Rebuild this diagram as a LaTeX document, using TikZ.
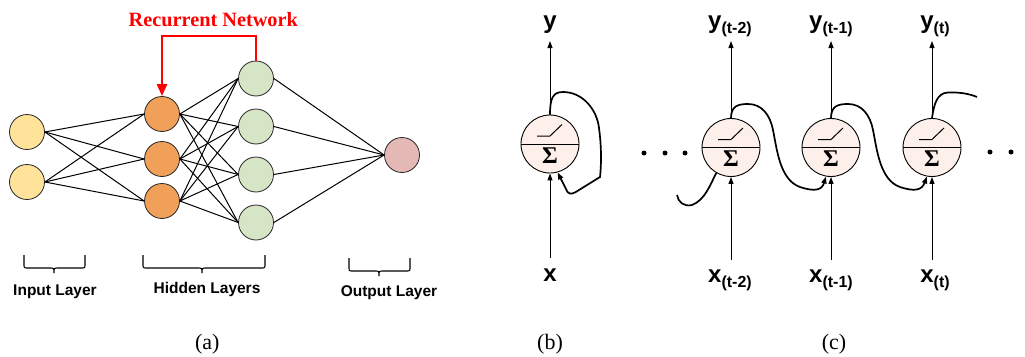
\documentclass[tikz,border=0pt]{standalone}
\usepackage{fontspec}
\setmainfont{Liberation Serif}
\newfontfamily\labfont{Liberation Sans}
\usetikzlibrary{arrows.meta,calc}
\definecolor{inyel}{HTML}{FFE39B}
\definecolor{hidor}{HTML}{F1A05A}
\definecolor{hidgr}{HTML}{D6E5C6}
\definecolor{outpk}{HTML}{E3B8B5}
\definecolor{neufill}{HTML}{FDF0EA}
\newcommand\layerbrace[4]{%
  \draw[line width=1.1pt] (#1,#4) -- (#1,#4+9) .. controls (#1,#4+13) .. (#1+4,#4+13)
    -- (#3-4,#4+13) .. controls (#3,#4+13) .. (#3,#4+18) .. controls (#3,#4+13) .. (#3+4,#4+13)
    -- (#2-4,#4+13) .. controls (#2,#4+13) .. (#2,#4+9) -- (#2,#4);}
\begin{document}
\begin{tikzpicture}[x=1pt,y=-1pt,
  unit/.style={circle,draw=black!85,line width=0.8pt,minimum size=35pt,inner sep=0pt},
  edge/.style={line width=1pt},
  neuron/.style={circle,draw=black,line width=0.9pt,fill=neufill,minimum size=58pt,inner sep=0pt},
  vec/.style={line width=1pt,-{Triangle[length=7pt,width=5pt]}},
  rec/.style={line width=1.7pt,-{Triangle[length=7pt,width=5pt]}},
  recfree/.style={line width=1.7pt},
  lab/.style={font=\labfont\bfseries\fontsize{24}{24}\selectfont, inner sep=0pt},
  layerlab/.style={font=\labfont\bfseries\fontsize{15.5}{16}\selectfont, inner sep=0pt},
  capt/.style={font=\fontsize{22}{22}\selectfont, inner sep=0pt},
  sig/.style={font=\fontsize{24}{24}\selectfont\bfseries, inner sep=0pt},
]
\useasboundingbox (0,0) rectangle (1025,356);

% ---------- (a) ----------
\node[unit,fill=inyel] (i1) at (27,132) {};
\node[unit,fill=inyel] (i2) at (27,182) {};
\node[unit,fill=hidor] (h1) at (162,114) {};
\node[unit,fill=hidor] (h2) at (162,159) {};
\node[unit,fill=hidor] (h3) at (162,201) {};
\node[unit,fill=hidgr] (g1) at (256,78.5) {};
\node[unit,fill=hidgr] (g2) at (256,126.5) {};
\node[unit,fill=hidgr] (g3) at (256,174.5) {};
\node[unit,fill=hidgr] (g4) at (256,222.5) {};
\node[unit,fill=outpk] (o1) at (402,155) {};

\foreach \a in {i1,i2}{\foreach \b in {h1,h2,h3}{\draw[edge] (\a.east) -- (\b.west);}}
\foreach \a in {h1,h2,h3}{\foreach \b in {g1,g2,g3,g4}{\draw[edge] (\a.east) -- (\b.west);}}
\foreach \a in {g1,g2,g3,g4}{\draw[edge] (\a.east) -- (o1.west);}

\node[font=\bfseries\fontsize{20.3}{21}\selectfont,text=red,inner sep=0pt,anchor=base] (rn) at (213.3,26.7) {Recurrent Network};
\coordinate (rt) at (209,36);
\draw[red,line width=2.6pt,-{Triangle[length=12pt,width=10pt]}] (g1.north) |- (rt) -| (h1.north);

\layerbrace{24}{85}{54}{255}
\layerbrace{143}{265}{202}{255}
\layerbrace{349}{410}{379}{258}
\node[layerlab,anchor=base] (tin) at (55,295) {Input Layer};
\node[layerlab,anchor=base] (thid) at (207,293) {Hidden Layers};
\node[layerlab,anchor=base] (tout) at (389,296) {Output Layer};

\node[capt,anchor=base] (ca) at (207.3,349) {(a)};
\node[capt,anchor=base] (cb) at (550,349) {(b)};
\node[capt,anchor=base] (cc) at (834,349) {(c)};

% ---------- (b) ----------
\node[neuron] (nb) at (550,144) {};
\foreach \n in {nb}{
  \draw[line width=1pt] (\n.west) -- (\n.east);
  \draw[line width=1pt] ($(\n)+(-13,-8)$) -- ($(\n)+(0,-8)$) -- ($(\n)+(12,-19.5)$);
  \node[sig,anchor=base] at ($(\n)+(0,19)$) {Σ};
}
\coordinate (byt) at (550,41);
\coordinate (bxb) at (550,258);
\draw[vec] (nb.north) -- (byt);
\draw[vec] (bxb) -- (nb.south);
\node[lab,anchor=base] (by) at (550,28) {y};
\node[lab,anchor=base] (bx) at (550,281) {x};
\draw[rec] (nb.north) .. controls (550,98) and (553,92) .. (563,92)
  .. controls (583,92) and (597,110) .. (599,128)
  .. controls (602,150) and (601,168) .. (600,177)
  -- (579,190) .. controls (574,193.5) and (570,195) .. (567.5,192)
  -- (nb.-75);

% ---------- (c) ----------
\node[neuron] (c1) at (731,147.5) {};
\node[neuron] (c2) at (831,147.5) {};
\node[neuron] (c3) at (932,147.5) {};
\foreach \n in {c1,c2,c3}{
  \draw[line width=1pt] (\n.west) -- (\n.east);
  \draw[line width=1pt] ($(\n)+(-13,-8)$) -- ($(\n)+(0,-8)$) -- ($(\n)+(12,-19.5)$);
  \node[sig,anchor=base] at ($(\n)+(0,19)$) {Σ};
}
\coordinate (t1) at (731,41);
\coordinate (t2) at (831,41);
\coordinate (t3) at (932,41);
\coordinate (s1) at (731,260);
\coordinate (s2) at (831,260);
\coordinate (s3) at (932,260);
\foreach \i in {1,2,3}{
  \draw[vec] (c\i.north) -- (t\i);
  \draw[vec] (s\i) -- (c\i.south);
}
\node[lab,anchor=base] (y1) at (730,28) {y\raisebox{-5pt}{\fontsize{16}{16}\selectfont(t-2)}};
\node[lab,anchor=base] (y2) at (831,28) {y\raisebox{-5pt}{\fontsize{16}{16}\selectfont(t-1)}};
\node[lab,anchor=base] (y3) at (935,28) {y\raisebox{-5pt}{\fontsize{16}{16}\selectfont(t)}};
\node[lab,anchor=base] (x1) at (730,282) {x\raisebox{-5pt}{\fontsize{16}{16}\selectfont(t-2)}};
\node[lab,anchor=base] (x2) at (831,282) {x\raisebox{-5pt}{\fontsize{16}{16}\selectfont(t-1)}};
\node[lab,anchor=base] (x3) at (935,282) {x\raisebox{-5pt}{\fontsize{16}{16}\selectfont(t)}};

\foreach \a/\b in {c1/c2,c2/c3}{
  \draw[rec] (\a.north) .. controls ($(\a)+(0,-41.5)$) and ($(\a)+(7,-43.5)$) .. ($(\a)+(17,-43.5)$)
    .. controls ($(\a)+(31,-43.5)$) and ($(\a)+(39,-32.5)$) .. ($(\a)+(42,-17.5)$)
    .. controls ($(\a)+(46,2.5)$) and ($(\a)+(49,32.5)$) .. ($(\a)+(69,39.5)$)
    .. controls ($(\a)+(84,44.5)$) and ($(\a)+(91,42.5)$) .. (\b.260);
}
\coordinate (lend) at (677,195);
\draw[recfree] (c1.240) .. controls (710,185) and (705,200) .. (692,205)
  .. controls (684,207) and (678,202) .. (lend);
\coordinate (rend) at (977,97);
\draw[recfree] (c3.north) .. controls (934,104) and (937,93) .. (948,92.5)
  .. controls (960,92) and (970,94) .. (rend);

\foreach \p in {644,665,685}{\fill (\p,153) circle (2.5pt);}
\foreach \p in {990,1011}{\fill (\p,152) circle (2.5pt);}
\end{tikzpicture}
\end{document}
